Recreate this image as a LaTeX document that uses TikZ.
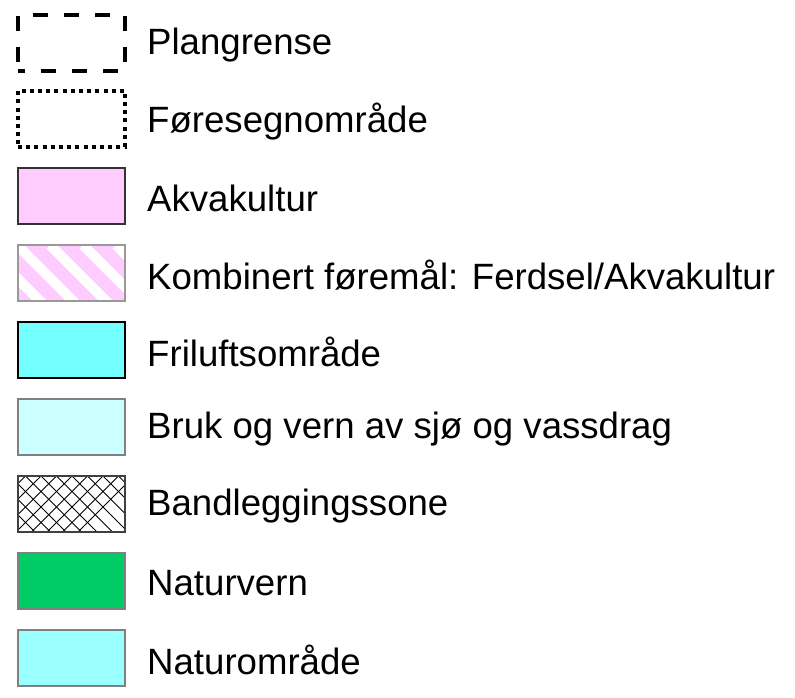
\documentclass[tikz,border=0pt]{standalone}
\usepackage{fontspec}
\setmainfont{Liberation Sans}
\usepackage{tikz}
\definecolor{akva}{HTML}{FFCCFF}
\definecolor{frilu}{HTML}{73FFFF}
\definecolor{bruk}{HTML}{CCFFFF}
\definecolor{natvern}{HTML}{00CC66}
\definecolor{natomr}{HTML}{99FFFF}
\tikzset{
    legbox/.style={rectangle, inner sep=0pt, minimum width=107pt, minimum height=56pt, line width=1.3pt},
    legtext/.style={anchor=west, inner sep=0pt, font=\fontsize{36.6}{40}\selectfont}
}
\tikzset{
    stripes/.style={path picture={
        \foreach \s in {-100,-67,...,140}
            \draw[white, line width=10pt] ([xshift=\s pt]path picture bounding box.north west) -- ++(80pt,-80pt);
    }},
    crosshatch/.style={path picture={
        \foreach \s in {-70,-54.5,...,130} {
            \draw[black, line width=0.9pt] ([xshift=\s pt]path picture bounding box.north west) -- ++(70pt,-70pt);
            \draw[black, line width=0.9pt] ([xshift=\s pt]path picture bounding box.north west) -- ++(-70pt,-70pt);
        }
    }}
}

\begin{document}
\begin{tikzpicture}[x=1pt, y=-1pt]
        \useasboundingbox (0,0) rectangle (795,697);
        \node (b1) [legbox, draw, line width=4pt, dash pattern=on 15pt off 16pt, dash phase=8pt] at (71.5,43) {};
        \node (b2) [legbox, draw, line width=4pt, dash pattern=on 4pt off 4.2pt] at (71.5,118.5) {};
        \node (b3) [legbox, draw=black!80, fill=akva] at (71.5,196) {};
        \node (b4) [legbox, draw=black!40, fill=akva, stripes] at (71.5,273) {};
        \node (b5) [legbox, draw=black, fill=frilu] at (71.5,350) {};
        \node (b6) [legbox, draw=black!50, fill=bruk] at (71.5,427) {};
        \node (b7) [legbox, draw=black!75, fill=white, crosshatch] at (71.5,504) {};
        \node (b8) [legbox, draw=black!50, fill=natvern] at (71.5,581) {};
        \node (b9) [legbox, draw=black!50, fill=natomr] at (71.5,658) {};
        % labels
        \node (t1) [legtext] at (147,45) {Plangrense};
        \node (t2) [legtext] at (147,122) {Føresegnområde};
        \node (t3) [legtext] at (147,198) {Akvakultur};
        \node (t4) [legtext] at (147,275) {Kombinert føremål: Ferdsel/Akvakultur};
        \node (t5) [legtext] at (147,352) {Friluftsområde};
        \node (t6) [legtext] at (147,429) {Bruk og vern av sjø og vassdrag};
        \node (t7) [legtext] at (147,506) {Bandleggingssone};
        \node (t8) [legtext] at (147,583) {Naturvern};
        \node (t9) [legtext] at (147,660) {Naturområde};
\end{tikzpicture}
\end{document}
